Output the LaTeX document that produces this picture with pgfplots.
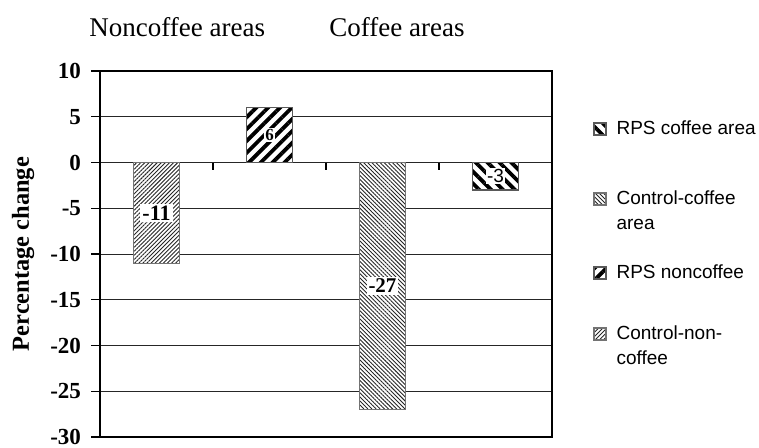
\documentclass[border=0pt]{standalone}
\usepackage{fontspec}
\setmainfont{Liberation Serif}
\newfontfamily\arial{Liberation Sans}
\usepackage{pgfplots}
\pgfplotsset{compat=1.18}
\usetikzlibrary{patterns.meta}
\newcommand{\lent}[2]{\smash{\begin{tabular}[t]{@{}l@{}}#1\end{tabular}}\rule[-#2pt]{0pt}{\dimexpr#2pt+8.75pt\relax}}
\tikzset{
  cnc/.style={draw=black!55, line width=0.6pt, fill=white,
    postaction={pattern color=black!85, pattern={Lines[angle=45,distance=1.45pt,line width=0.45pt]}}},
  rnc/.style={draw=black!65, line width=0.6pt, fill=white,
    postaction={pattern color=black, pattern={Lines[angle=45,distance=4.2pt,line width=1.9pt]}}},
  cc/.style={draw=black!55, line width=0.6pt, fill=white,
    postaction={pattern color=black!85, pattern={Lines[angle=-45,distance=1.45pt,line width=0.45pt]}}},
  rc/.style={draw=black!65, line width=0.6pt, fill=white,
    postaction={pattern color=black, pattern={Lines[angle=-45,distance=4.2pt,line width=1.9pt]}}},
}
\begin{document}
\begin{tikzpicture}
\useasboundingbox (0,0) rectangle (379.5pt,223.5pt);
\begin{axis}[
  at={(50pt,5pt)}, anchor=south west,
  width=226pt, height=183pt, scale only axis,
  clip=false,
  ybar, bar width=23pt, bar shift=0pt,
  xmin=-0.5, xmax=3.5, ymin=-30, ymax=10,
  xtick=\empty,
  ytick={-30,-25,-20,-15,-10,-5,0,5,10},
  yticklabels={-30,-25,-20,-15,-10,-5,0,5,10},
  ytick pos=left, tick align=outside, major tick length=4.5pt,
  yticklabel style={font=\fontsize{11.5}{13}\selectfont\bfseries, xshift=-1.5pt},
  ymajorgrids, major grid style={black!85, line width=0.5pt},
  axis line style={line width=0.65pt},
  every tick/.style={black, line width=0.65pt},
  ylabel={Percentage change},
  ylabel style={at={(axis description cs:-0.17,0.5)}, anchor=center, font=\fontsize{12.2}{14}\selectfont\bfseries},
  reverse legend,
  legend cell align=left,
  legend image code/.code={\draw[#1] (0pt,0pt) rectangle (6pt,6pt);},
  legend style={draw=none, fill=none, at={(axis description cs:1.0907,0.8743)}, anchor=north west,
    inner xsep=0pt, inner ysep=0pt, column sep=5pt, row sep=0pt,
    cells={anchor=base west},
    nodes={inner sep=0pt, text depth=},
    font=\arial\fontsize{9.5}{12.5}\selectfont},
]
\addplot[cnc] coordinates {(0,-11)};
\addlegendentry{\lent{Control-non-\\coffee}{16}}
\addplot[rnc] coordinates {(1,6)};
\addlegendentry{\lent{RPS noncoffee}{21.75}}
\addplot[cc] coordinates {(2,-27)};
\addlegendentry{\lent{Control-coffee\\area}{28.25}}
\addplot[rc] coordinates {(3,-3)};
\addlegendentry{\lent{RPS coffee area}{26.25}}

\addplot[forget plot, draw=none, fill=none, nodes near coords, point meta=explicit symbolic,
  nodes near coords align={anchor=center},
  nodes near coords style={fill=white, text=black, inner sep=1pt, font=\fontsize{11}{12}\selectfont\bfseries}]
  coordinates {(0,-5.5) [-11]};
\addplot[forget plot, draw=none, fill=none, nodes near coords, point meta=explicit symbolic,
  nodes near coords align={anchor=center},
  nodes near coords style={fill=white, text=black, inner sep=0.6pt, font=\fontsize{8.5}{10}\selectfont\bfseries}]
  coordinates {(1,3) [6]};
\addplot[forget plot, draw=none, fill=none, nodes near coords, point meta=explicit symbolic,
  nodes near coords align={anchor=center},
  nodes near coords style={fill=white, text=black, inner sep=1pt, font=\fontsize{10.5}{12}\selectfont\bfseries}]
  coordinates {(2,-13.5) [-27]};
\addplot[forget plot, draw=none, fill=none, nodes near coords, point meta=explicit symbolic,
  nodes near coords align={anchor=center},
  nodes near coords style={fill=white, text=black, inner sep=0.6pt, font=\arial\fontsize{9.5}{11}\selectfont}]
  coordinates {(3,-1.5) [-3]};

\draw[line width=0.65pt] (axis cs:0.5,0) -- ++(0pt,-3.5pt);
\draw[line width=0.65pt] (axis cs:1.5,0) -- ++(0pt,-3.5pt);
\draw[line width=0.65pt] (axis cs:2.5,0) -- ++(0pt,-3.5pt);

\node[anchor=base, font=\fontsize{13.5}{16}\selectfont] at (axis description cs:0.171,1.0956) {Noncoffee areas};
\node[anchor=base, font=\fontsize{13.5}{16}\selectfont] at (axis description cs:0.657,1.0956) {Coffee areas};
\end{axis}
\end{tikzpicture}
\end{document}
